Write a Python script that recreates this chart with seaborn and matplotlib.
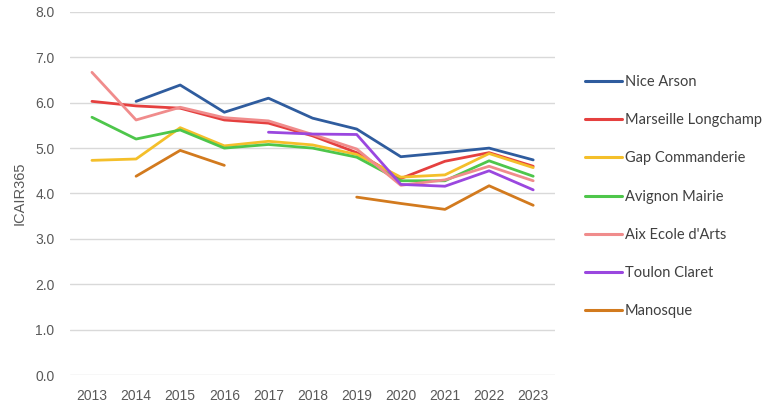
import numpy as np
import pandas as pd
import matplotlib
matplotlib.use("Agg")
import matplotlib.pyplot as plt
import seaborn as sns

years = ["2013", "2014", "2015", "2016", "2017", "2018", "2019", "2020", "2021", "2022", "2023"]
nan = np.nan
nice_arson = [nan, 6.03, 6.39, 5.79, 6.10, 5.66, 5.42, 4.81, 4.90, 5.00, 4.74]
marseille = [6.03, 5.93, 5.88, 5.62, 5.55, 5.27, 4.90, 4.33, 4.71, 4.90, 4.60]
gap = [4.73, 4.76, 5.45, 5.05, 5.15, 5.07, 4.86, 4.36, 4.41, 4.88, 4.57]
avignon = [5.68, 5.20, 5.40, 5.00, 5.08, 5.00, 4.80, 4.28, 4.28, 4.72, 4.38]
aix = [6.67, 5.62, 5.90, 5.67, 5.60, 5.30, 4.98, 4.18, 4.30, 4.60, 4.28]
toulon = [nan, nan, nan, nan, 5.35, 5.31, 5.30, 4.20, 4.16, 4.50, 4.08]
manosque = [nan, 4.38, 4.95, 4.62, nan, nan, 3.92, 3.78, 3.65, 4.17, 3.74]

series = {
    "Nice Arson": nice_arson,
    "Marseille Longchamp": marseille,
    "Gap Commanderie": gap,
    "Avignon Mairie": avignon,
    "Aix Ecole d'Arts": aix,
    "Toulon Claret": toulon,
    "Manosque": manosque,
}
colors = {
    "Nice Arson": "#2F5C9E",
    "Marseille Longchamp": "#E5403F",
    "Gap Commanderie": "#F4BF2A",
    "Avignon Mairie": "#4EC64B",
    "Aix Ecole d'Arts": "#F08C8C",
    "Toulon Claret": "#9A47DF",
    "Manosque": "#D27A1E",
}

sns.set_style("white")
plt.rcParams["font.family"] = ["Liberation Sans", "DejaVu Sans"]

fig = plt.figure(figsize=(7.68, 4.07), dpi=100)
ax = fig.add_axes([0.091, 0.0786, 0.632, 0.892])

xpos = np.arange(len(years))
handles = []
for name, vals in series.items():
    df = pd.DataFrame({"x": xpos, "y": vals})
    seg_id = df["y"].isna().cumsum()
    df = df[df["y"].notna()].copy()
    df["seg"] = seg_id[df.index]
    for k, (_, seg) in enumerate(df.groupby("seg")):
        sns.lineplot(data=seg, x="x", y="y", ax=ax, color=colors[name],
                     linewidth=2.0, legend=False)
    handles.append(plt.Line2D([], [], color=colors[name], linewidth=2.2, label=name))

ax.set_xlim(-0.5, len(years) - 0.5)
ax.set_ylim(0, 8)
ax.set_yticks(np.arange(0, 8.01, 1.0))
ax.set_yticklabels([f"{v:.1f}" for v in np.arange(0, 8.01, 1.0)])
ax.set_xticks(xpos)
ax.set_xticklabels(years)
ax.yaxis.grid(True, color="#D9D9D9", linewidth=1.0)
ax.xaxis.grid(False)
for s in ax.spines.values():
    s.set_visible(False)
ax.tick_params(axis="both", length=0, labelsize=10, colors="#595959")
ax.tick_params(axis="y", pad=11)
ax.tick_params(axis="x", pad=10)
ax.set_xlabel("")
ax.set_ylabel("ICAIR365", fontsize=10.5, color="#595959", labelpad=6)

leg = fig.legend(handles=handles, loc="upper left", bbox_to_anchor=(0.744, 0.848),
                 frameon=False, handlelength=2.6, handletextpad=0.15,
                 labelspacing=1.66, prop={"family": "Lato", "size": 10.5})
for t in leg.get_texts():
    t.set_color("#404040")

fig.savefig("out.png", dpi=100)
